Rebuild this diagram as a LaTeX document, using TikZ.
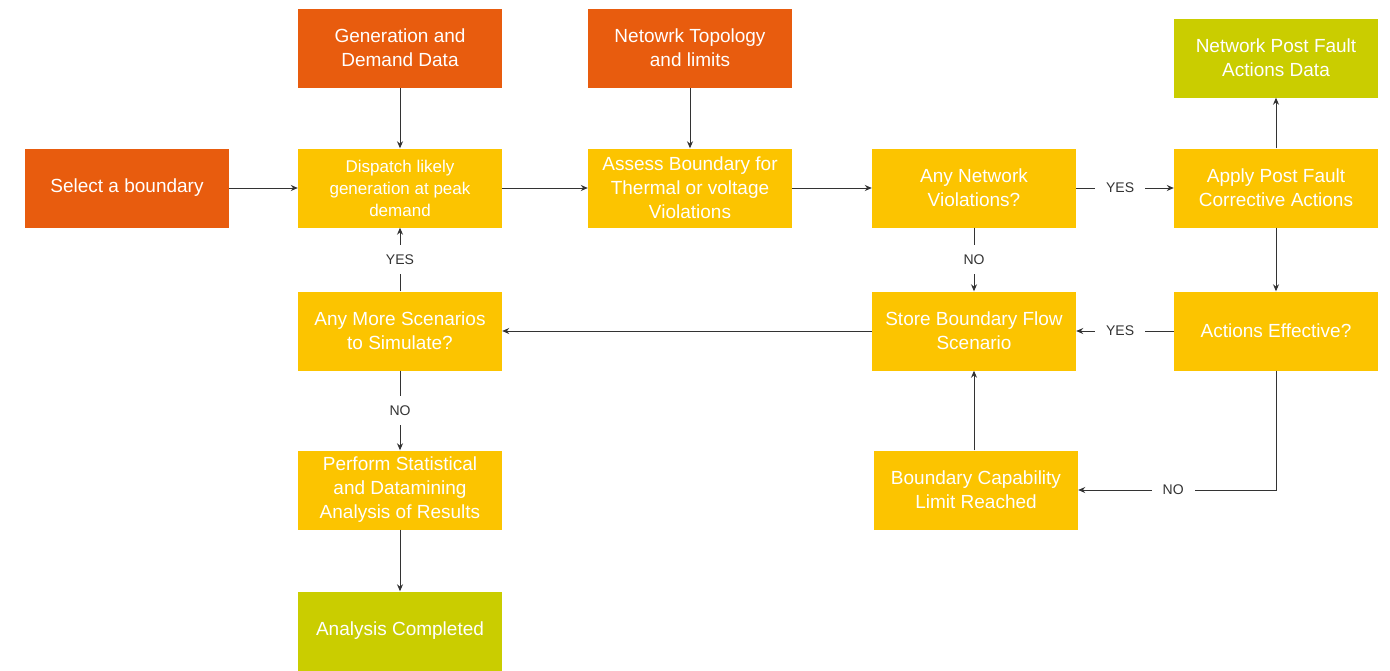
\documentclass[tikz,border=0pt]{standalone}
\usepackage{fontspec}
\setmainfont{Liberation Sans}
\usetikzlibrary{arrows.meta}

\definecolor{flowOrange}{HTML}{E85C0E}
\definecolor{flowYellow}{HTML}{FCC400}
\definecolor{flowGreen}{HTML}{CACD00}
\definecolor{flowLine}{HTML}{333333}

\tikzset{
	box/.style={minimum width=204pt, minimum height=79pt, inner sep=0pt, align=center, text=white,
		font=\fontsize{19}{24}\selectfont},
	inbox/.style={box, fill=flowOrange},
	stepbox/.style={box, fill=flowYellow},
	outbox/.style={box, fill=flowGreen},
	arr/.style={draw=flowLine, line width=1pt, -{Stealth[length=7pt,width=6pt]}},
	answer/.style={fill=white, text=flowLine, inner xsep=11pt, inner ysep=10pt, font=\fontsize{14}{16}\selectfont},
}

\begin{document}
\begin{tikzpicture}[x=1pt, y=-1pt]
		\useasboundingbox (0,0) rectangle (1390,670);
		\node[inbox] (select) at (127,188) {Select a boundary};
		\node[inbox] (gen) at (400,48) {Generation and\\Demand Data};
		\node[inbox] (topo) at (690,48) {Netowrk Topology\\and limits};
		\node[outbox] (postdata) at (1276,58) {Network Post Fault\\Actions Data};
		\node[stepbox, font=\fontsize{17}{22}\selectfont] (dispatch) at (400,188) {Dispatch likely\\generation at peak\\demand};
		\node[stepbox] (assess) at (690,188) {Assess Boundary for\\Thermal or voltage\\Violations};
		\node[stepbox] (viol) at (974,188) {Any Network\\Violations?};
		\node[stepbox] (apply) at (1276,188) {Apply Post Fault\\Corrective Actions};
		\node[stepbox] (more) at (400,331) {Any More Scenarios\\to Simulate?};
		\node[stepbox] (store) at (974,331) {Store Boundary Flow\\Scenario};
		\node[stepbox] (effective) at (1276,331) {Actions Effective?};
		\node[stepbox] (stats) at (400,490) {Perform Statistical\\and Datamining\\Analysis of Results};
		\node[stepbox] (capability) at (976,490) {Boundary Capability\\Limit Reached};
		\node[outbox] (done) at (400,631) {Analysis Completed};

		\draw[arr] (gen) -- (dispatch);
		\draw[arr] (topo) -- (assess);
		\draw[arr] (select) -- (dispatch);
		\draw[arr] (dispatch) -- (assess);
		\draw[arr] (assess) -- (viol);
		\draw[arr] (viol) -- node[answer, pos=0.45] {YES} (apply);
		\draw[arr] (viol) -- node[answer] {NO} (store);
		\draw[arr] (apply) -- (postdata);
		\draw[arr] (apply) -- (effective);
		\draw[arr] (effective) -- node[answer, pos=0.55] {YES} (store);
		\draw[arr] (effective.south) |- node[answer, pos=0.76] {NO} (capability.east);
		\draw[arr] (store.south |- capability.north) -- (store.south);
		\draw[arr] (store) -- (more);
		\draw[arr] (more) -- node[answer] {YES} (dispatch);
		\draw[arr] (more) -- node[answer] {NO} (stats);
		\draw[arr] (stats) -- (done);
\end{tikzpicture}
\end{document}
